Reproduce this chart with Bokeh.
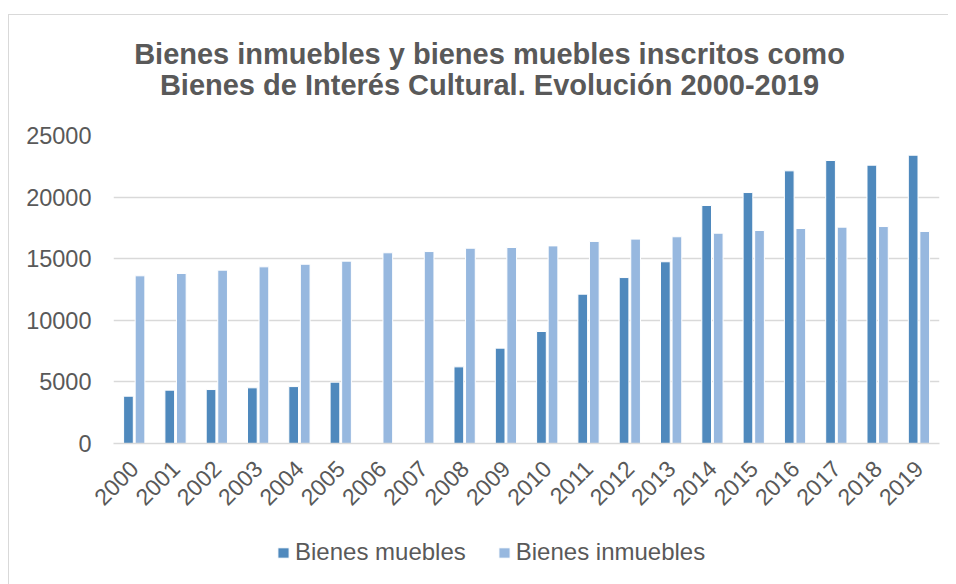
import math
from bokeh.plotting import figure
from bokeh.layouts import column
from bokeh.models import (ColumnDataSource, FactorRange, Range1d, FixedTicker,
                          Legend, LegendItem, Label)
from bokeh.transform import dodge
from bokeh.embed import file_html
from bokeh.resources import INLINE

years = [str(y) for y in range(2000, 2020)]
muebles = [3840, 4330, 4380, 4520, 4620, 4980, 0, 0, 6220, 7740,
           9090, 12120, 13470, 14750, 19320, 20370, 22130, 22970, 22590, 23400]
inmuebles = [13610, 13800, 14070, 14340, 14550, 14800, 15480, 15580, 15850, 15910,
             16040, 16400, 16590, 16780, 17070, 17290, 17450, 17560, 17610, 17210]
y_ticks = [0, 5000, 10000, 15000, 20000, 25000]
title_lines = ["Bienes inmuebles y bienes muebles inscritos como",
               "Bienes de Interés Cultural. Evolución 2000-2019"]
series_names = ["Bienes muebles", "Bienes inmuebles"]

C_MUE = "#4F89BD"
C_INM = "#97B8DF"
GRID = "#D9D9D9"
TXT = "#595959"
FONT = "Liberation Sans"
W = 939


def blank(fig):
    fig.outline_line_color = None
    fig.background_fill_color = "white"
    fig.border_fill_color = "white"


src = ColumnDataSource(dict(year=years, muebles=muebles, inmuebles=inmuebles))

# ---------------- title strip (pixel-mapped ranges) ----------------
hd = figure(width=W, height=105, output_backend="svg", toolbar_location=None,
            x_range=Range1d(104, 930), y_range=Range1d(105, 0),
            x_axis_location=None, y_axis_location=None,
            min_border_left=104, min_border_right=9, min_border_top=0,
            min_border_bottom=0)
blank(hd)
hd.grid.grid_line_color = None
for txt, ypos in zip(title_lines, [38, 69]):
    hd.add_layout(Label(x=480, y=ypos, text=txt, text_align="center",
                        text_baseline="alphabetic", text_font=FONT,
                        text_font_size="29px", text_font_style="bold",
                        text_color=TXT))

# ---------------- main chart ----------------
p = figure(width=W, height=400, output_backend="svg", toolbar_location=None,
           x_range=FactorRange(*years, range_padding=0), y_range=Range1d(0, 25000),
           min_border_left=104, min_border_right=9, min_border_top=15,
           min_border_bottom=77)
blank(p)

p.vbar(x=dodge("year", -0.138, range=p.x_range), top="muebles", width=0.235,
       source=src, fill_color=C_MUE, line_color="white", line_width=1)
p.vbar(x=dodge("year", 0.142, range=p.x_range), top="inmuebles", width=0.235,
       source=src, fill_color=C_INM, line_color="white", line_width=1)

p.xgrid.grid_line_color = None
p.ygrid.grid_line_color = GRID
p.ygrid.grid_line_width = 1.5

p.yaxis.ticker = FixedTicker(ticks=y_ticks)
p.yaxis.axis_line_color = None
p.yaxis.major_tick_line_color = None
p.yaxis.minor_tick_line_color = None
p.yaxis.major_label_standoff = 16
p.yaxis.major_label_text_font = FONT
p.yaxis.major_label_text_font_size = "23.5px"
p.yaxis.major_label_text_color = TXT

p.xaxis.axis_line_color = GRID
p.xaxis.axis_line_width = 1.5
p.xaxis.major_tick_line_color = None
p.xaxis.major_tick_out = 0
p.xaxis.major_label_orientation = math.pi / 4
p.xaxis.major_label_standoff = 21
p.xaxis.major_label_text_font = FONT
p.xaxis.major_label_text_font_size = "23px"
p.xaxis.major_label_text_color = TXT

# ---------------- legend strip ----------------
lf = figure(width=W, height=64, output_backend="svg", toolbar_location=None,
            x_range=FactorRange(*years, range_padding=0), y_range=Range1d(-2, -1),
            x_axis_location=None, y_axis_location=None,
            min_border_left=104, min_border_right=9, min_border_top=0,
            min_border_bottom=0)
blank(lf)
lf.grid.grid_line_color = None
l1 = lf.vbar(x="year", top="muebles", width=0.235, source=src,
             fill_color=C_MUE, line_color="white", line_width=1, visible=False)
l2 = lf.vbar(x="year", top="inmuebles", width=0.235, source=src,
             fill_color=C_INM, line_color="white", line_width=1, visible=False)

legend = Legend(items=[LegendItem(label=series_names[0], renderers=[l1]),
                       LegendItem(label=series_names[1], renderers=[l2])],
                orientation="horizontal", location=(163, 18),
                padding=0, margin=0, spacing=31, label_standoff=5,
                glyph_width=14, glyph_height=13, label_height=20,
                inactive_fill_alpha=0,
                label_text_font=FONT, label_text_font_size="24px",
                label_text_color=TXT, border_line_color=None,
                background_fill_alpha=0)
lf.add_layout(legend, "center")

layout = column(hd, p, lf, spacing=0,
                styles={"margin-top": "14px", "margin-left": "8px",
                        "border-left": f"1px solid {GRID}",
                        "border-top": f"1px solid {GRID}"})

open("out.html", "w").write(file_html(layout, INLINE))
